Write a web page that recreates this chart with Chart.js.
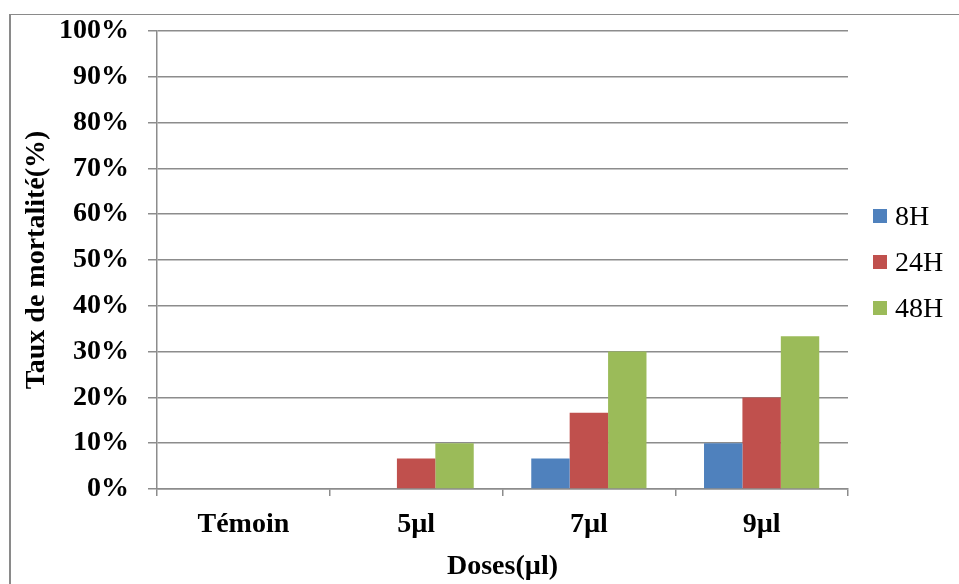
<!DOCTYPE html>
<html>
<head>
<meta charset="utf-8">
<script src="https://cdn.jsdelivr.net/npm/chart.js@4.4.0/dist/chart.umd.min.js"></script>
<style>
  html, body { margin: 0; padding: 0; background: #fff; }
  #wrap { position: relative; width: 959px; height: 584px; overflow: hidden; }
  #frame { position: absolute; left: 9px; top: 14px; width: 960px; height: 580px;
           border-top: 1px solid #8a8a8a; border-left: 2px solid #8a8a8a; pointer-events: none; }
  #legend { position: absolute; left: 873px; top: 193px; font-family: "Liberation Serif", serif;
            font-size: 28px; color: #000; }
  #legend .item { height: 46px; display: flex; align-items: center; white-space: nowrap; margin-top: 0; }
  #legend .box { width: 14px; height: 14px; margin-right: 8px; display: inline-block; }
  canvas { position: absolute; left: 0; top: 0; }
</style>
</head>
<body>
<div id="wrap">
  <canvas id="c" width="959" height="584"></canvas>
  <div id="frame"></div>
  <div id="legend"></div>
</div>
<script>
// Mortality rate (%) by dose and exposure time
const categories = ["Témoin", "5µl", "7µl", "9µl"];
const seriesNames = ["8H", "24H", "48H"];
const values8H  = [0, 0, 6.67, 10];
const values24H = [0, 6.67, 16.67, 20];
const values48H = [0, 10, 30, 33.33];
const seriesColors = ["#4F81BD", "#C0504D", "#9BBB59"];
const yTicks = [0, 10, 20, 30, 40, 50, 60, 70, 80, 90, 100];

const seriesValues = [values8H, values24H, values48H];
const gridColor = "#8c8c8c";
const boldFont = { family: "Liberation Serif", size: 28, weight: "bold" };

const chart = new Chart(document.getElementById("c"), {
  type: "bar",
  data: {
    labels: categories,
    datasets: seriesNames.map((name, i) => ({
      label: name,
      data: seriesValues[i],
      backgroundColor: seriesColors[i],
      borderWidth: 0,
      barPercentage: 1,
      categoryPercentage: 0.667
    }))
  },
  options: {
    responsive: false,
    animation: false,
    devicePixelRatio: 1,
    layout: { padding: { top: 31, right: 111, bottom: 0, left: 0 } },
    plugins: {
      legend: { display: false },
      tooltip: { enabled: false }
    },
    scales: {
      x: {
        afterFit: s => { s.height = 95; },
        grid: { drawOnChartArea: false, drawTicks: true, tickLength: 7, color: gridColor, lineWidth: 1.5 },
        border: { color: gridColor, width: 1.5 },
        ticks: { color: "#000", font: boldFont, padding: 12, maxRotation: 0 },
        title: { display: true, text: "Doses(µl)", color: "#000", font: boldFont, padding: { top: 0, bottom: 0 } }
      },
      y: {
        min: 0, max: 100,
        afterFit: s => { s.width = 157; s.paddingTop = 0; s.paddingBottom = 0; },
        afterBuildTicks: s => { s.ticks = yTicks.map(v => ({ value: v })); },
        grid: { color: gridColor, lineWidth: 1.5, tickLength: 9 },
        border: { color: gridColor, width: 1.5 },
        ticks: { color: "#000", font: boldFont, padding: 19, callback: v => v + "%" },
        title: { display: true, text: "Taux de mortalité(%)", color: "#000", font: boldFont, padding: { top: 20, bottom: 0 } }
      }
    }
  }
});

// Legend built from the series arrays
const legend = document.getElementById("legend");
seriesNames.forEach((name, i) => {
  const item = document.createElement("div");
  item.className = "item";
  const box = document.createElement("span");
  box.className = "box";
  box.style.background = seriesColors[i];
  const txt = document.createElement("span");
  txt.textContent = name;
  item.appendChild(box);
  item.appendChild(txt);
  legend.appendChild(item);
});
</script>
</body>
</html>
